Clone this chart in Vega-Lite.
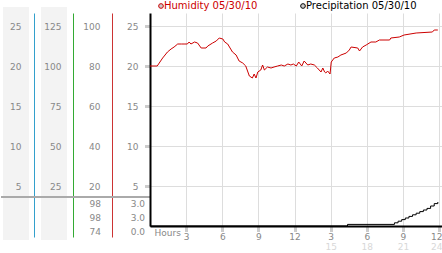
{
  "$schema": "https://vega.github.io/schema/vega-lite/v6.json",
  "padding": {"top": 1, "left": 0, "right": 0, "bottom": 0},
  "background": "white",
  "spacing": 0,
  "bounds": "flush",
  "resolve": {"scale": {"color": "independent"}, "legend": {"color": "independent"}},
  "config": {
    "view": {"stroke": null},
    "font": "DejaVu Sans",
    "axis": {"labelFont": "DejaVu Sans", "labelFontSize": 9, "labelColor": "#888888", "titleFont": "DejaVu Sans"}
  },
  "datasets": {
    "humidity": [
      {"hour": 0, "humidity": 80}, {"hour": 0.6, "humidity": 80}, {"hour": 1.05, "humidity": 84}, {"hour": 1.45, "humidity": 87},
      {"hour": 1.75, "humidity": 88.5}, {"hour": 2.0, "humidity": 89.5}, {"hour": 2.3, "humidity": 91}, {"hour": 2.6, "humidity": 91},
      {"hour": 2.9, "humidity": 91}, {"hour": 3.1, "humidity": 91}, {"hour": 3.25, "humidity": 92}, {"hour": 3.4, "humidity": 91},
      {"hour": 3.7, "humidity": 92}, {"hour": 3.95, "humidity": 91.5}, {"hour": 4.25, "humidity": 89}, {"hour": 4.65, "humidity": 89},
      {"hour": 4.8, "humidity": 90}, {"hour": 5.2, "humidity": 91.5}, {"hour": 5.5, "humidity": 92.5}, {"hour": 5.75, "humidity": 94},
      {"hour": 6.05, "humidity": 93.5}, {"hour": 6.2, "humidity": 92}, {"hour": 6.45, "humidity": 91}, {"hour": 6.6, "humidity": 89.5},
      {"hour": 6.85, "humidity": 87}, {"hour": 7.15, "humidity": 85.5}, {"hour": 7.4, "humidity": 82.5}, {"hour": 7.7, "humidity": 81.5},
      {"hour": 7.95, "humidity": 80}, {"hour": 8.25, "humidity": 75}, {"hour": 8.5, "humidity": 74}, {"hour": 8.65, "humidity": 76},
      {"hour": 8.8, "humidity": 74}, {"hour": 8.95, "humidity": 77}, {"hour": 9.2, "humidity": 78}, {"hour": 9.35, "humidity": 80.5},
      {"hour": 9.5, "humidity": 78}, {"hour": 9.75, "humidity": 79.5}, {"hour": 10.05, "humidity": 79}, {"hour": 10.3, "humidity": 79.5},
      {"hour": 10.6, "humidity": 80}, {"hour": 10.9, "humidity": 80.5}, {"hour": 11.15, "humidity": 80}, {"hour": 11.45, "humidity": 81},
      {"hour": 11.7, "humidity": 80.5}, {"hour": 11.9, "humidity": 81}, {"hour": 12.15, "humidity": 80}, {"hour": 12.35, "humidity": 82},
      {"hour": 12.6, "humidity": 80}, {"hour": 12.8, "humidity": 82.5}, {"hour": 13.1, "humidity": 80.5}, {"hour": 13.35, "humidity": 81},
      {"hour": 13.65, "humidity": 80.5}, {"hour": 13.9, "humidity": 79}, {"hour": 14.2, "humidity": 77}, {"hour": 14.35, "humidity": 79},
      {"hour": 14.5, "humidity": 77}, {"hour": 14.6, "humidity": 76.5}, {"hour": 14.75, "humidity": 77.5}, {"hour": 14.95, "humidity": 76},
      {"hour": 15.05, "humidity": 82}, {"hour": 15.3, "humidity": 84}, {"hour": 15.6, "humidity": 84.5}, {"hour": 15.85, "humidity": 85.5},
      {"hour": 16.3, "humidity": 86.5}, {"hour": 16.55, "humidity": 88}, {"hour": 16.7, "humidity": 89.5}, {"hour": 17.25, "humidity": 89},
      {"hour": 17.4, "humidity": 87.5}, {"hour": 17.65, "humidity": 89.5}, {"hour": 17.95, "humidity": 90.5}, {"hour": 18.35, "humidity": 92},
      {"hour": 18.75, "humidity": 92}, {"hour": 19.05, "humidity": 93}, {"hour": 19.9, "humidity": 93}, {"hour": 20.0, "humidity": 94},
      {"hour": 20.7, "humidity": 94.5}, {"hour": 21.1, "humidity": 95.5}, {"hour": 22.1, "humidity": 96.5}, {"hour": 23.45, "humidity": 97},
      {"hour": 23.6, "humidity": 98}, {"hour": 23.9, "humidity": 98}
    ],
    "precip": [
      {"hour": 0, "precip": 0}, {"hour": 16.4, "precip": 0.2}, {"hour": 20.3, "precip": 0.4}, {"hour": 20.6, "precip": 0.6},
      {"hour": 20.9, "precip": 0.8}, {"hour": 21.2, "precip": 1.0}, {"hour": 21.5, "precip": 1.2}, {"hour": 21.8, "precip": 1.4},
      {"hour": 22.1, "precip": 1.6}, {"hour": 22.4, "precip": 1.8}, {"hour": 22.7, "precip": 2.0}, {"hour": 23.0, "precip": 2.2},
      {"hour": 23.3, "precip": 2.5}, {"hour": 23.6, "precip": 2.8}, {"hour": 23.9, "precip": 3.0}
    ],
    "stats": [
      {"series": "Humidity", "lines": ["98", "98", "74"]},
      {"series": "Precipitation", "lines": ["3.0", "3.0", "0.0"]}
    ]
  },
  "hconcat": [
    {
      "width": 2, "height": 224,
      "data": {"values": [{}]},
      "mark": {"type": "rule", "color": "#aaaaaa", "strokeWidth": 2},
      "encoding": {"y": {"datum": 3.625, "type": "quantitative", "scale": {"domain": [-1.375, 26.625], "nice": false, "zero": false}, "axis": null}}
    },
    {
      "width": 26, "height": 224,
      "data": {"values": [{}]},
      "layer": [
        {"mark": {"type": "rect", "color": "#f3f3f3"},
         "encoding": {"y": {"datum": 27.375, "type": "quantitative", "scale": {"domain": [-1.375, 26.625], "nice": false, "zero": false}, "axis": null}, "y2": {"datum": -1.75}}},
        {"mark": {"type": "rule", "color": "#aaaaaa", "strokeWidth": 2},
         "encoding": {"y": {"datum": 3.625, "type": "quantitative", "axis": null}}}
      ]
    },
    {
      "width": 12, "height": 224,
      "data": {"values": [{}]},
      "mark": {"type": "rule", "color": "#aaaaaa", "strokeWidth": 2},
      "encoding": {"y": {"datum": 3.625, "type": "quantitative", "scale": {"domain": [-1.375, 26.625], "nice": false, "zero": false},
        "axis": {"orient": "left", "offset": -5, "values": [5, 10, 15, 20, 25], "domainColor": "#33a0cc", "domainWidth": 1, "ticks": false, "tickSize": 0, "labelPadding": 13, "grid": false, "title": null}}}
    },
    {
      "width": 26, "height": 224,
      "data": {"values": [{}]},
      "layer": [
        {"mark": {"type": "rect", "color": "#f3f3f3"},
         "encoding": {"y": {"datum": 27.375, "type": "quantitative", "scale": {"domain": [-1.375, 26.625], "nice": false, "zero": false}, "axis": null}, "y2": {"datum": -1.75}}},
        {"mark": {"type": "rule", "color": "#aaaaaa", "strokeWidth": 2},
         "encoding": {"y": {"datum": 3.625, "type": "quantitative", "axis": null}}}
      ]
    },
    {
      "width": 6, "height": 224,
      "data": {"values": [{}]},
      "mark": {"type": "rule", "color": "#aaaaaa", "strokeWidth": 2},
      "encoding": {"y": {"datum": 3.625, "type": "quantitative", "scale": {"domain": [-1.375, 26.625], "nice": false, "zero": false}, "axis": null}}
    },
    {
      "width": 39, "height": 224,
      "layer": [
        {"data": {"values": [{}]},
         "mark": {"type": "rule", "color": "#aaaaaa", "strokeWidth": 2},
         "encoding": {"y": {"datum": 18.125, "type": "quantitative", "scale": {"domain": [-6.875, 133.125], "nice": false, "zero": false},
           "axis": {"orient": "left", "values": [25, 50, 75, 100, 125], "domainColor": "#33aa33", "domainWidth": 1, "ticks": false, "tickSize": 0, "labelPadding": 12, "grid": false, "title": null}}}},
        {"data": {"name": "stats"},
         "transform": [{"filter": "datum.series === 'Humidity'"}],
         "mark": {"type": "text", "align": "right", "baseline": "middle", "dx": 8.5, "dy": -22, "lineHeight": 14, "fontSize": 9, "font": "DejaVu Sans", "color": "#888888"},
         "encoding": {"y": {"datum": 0, "type": "quantitative"}, "text": {"field": "lines", "type": "nominal"}}}
      ]
    },
    {
      "width": 38, "height": 224,
      "layer": [
        {"data": {"values": [{}]},
         "mark": {"type": "rule", "color": "#aaaaaa", "strokeWidth": 2},
         "encoding": {"y": {"datum": 14.5, "type": "quantitative", "scale": {"domain": [-5.5, 106.5], "nice": false, "zero": false},
           "axis": {"orient": "left", "values": [20, 40, 60, 80, 100], "domainColor": "#cc3333", "domainWidth": 1, "ticks": false, "tickSize": 0, "labelPadding": 12, "grid": false, "title": null}}}},
        {"data": {"name": "stats"},
         "transform": [{"filter": "datum.series === 'Precipitation'"}],
         "mark": {"type": "text", "align": "right", "baseline": "middle", "dx": 14, "dy": -22, "lineHeight": 14, "fontSize": 9, "font": "DejaVu Sans", "color": "#888888"},
         "encoding": {"y": {"datum": 0, "type": "quantitative"}, "text": {"field": "lines", "type": "nominal"}}}
      ]
    },
    {
      "width": 293, "height": 213,
      "layer": [
        {"data": {"name": "precip"},
         "mark": {"type": "line", "interpolate": "step-after", "strokeWidth": 1},
         "encoding": {
           "x": {"field": "hour", "type": "quantitative", "scale": {"domain": [0, 24.33], "nice": false, "zero": false},
             "axis": {"orient": "bottom", "values": [15, 18, 21, 24], "grid": false, "domain": false, "ticks": false, "tickSize": 0, "labelPadding": 16, "labelColor": "#d8d8d8", "labelFlush": 5, "labelFlushOffset": 3, "title": null}},
           "y": {"field": "precip", "type": "quantitative", "scale": {"domain": [0, 26.625], "nice": false, "zero": false},
             "axis": {"values": [5, 10, 15, 20, 25], "grid": true, "gridColor": "#dddddd", "domainColor": "#000000", "domainWidth": 2, "tickColor": "#999999", "tickSize": 5, "tickWidth": 3, "tickDash": [1, 1], "labelPadding": 7, "title": null}},
           "color": {"datum": "Precipitation 05/30/10", "type": "nominal",
             "scale": {"domain": ["Humidity 05/30/10", "Precipitation 05/30/10"], "range": ["#cc0000", "#000000"]},
             "legend": {"orient": "none", "legendX": 6, "legendY": -12, "direction": "horizontal", "title": null, "padding": 0,
               "symbolType": "circle", "symbolSize": 22, "symbolStrokeWidth": 1, "labelFont": "DejaVu Sans", "labelFontSize": 10, "labelOffset": -2, "columnPadding": 40,
               "encode": {
                 "symbols": {"update": {"fill": {"value": "#cccccc"}, "stroke": {"value": "#999999"}}},
                 "labels": {"update": {"fill": {"signal": "datum.label === 'Humidity 05/30/10' ? '#cc0000' : '#000000'"}}}
               }}}
         }},
        {"data": {"name": "humidity"},
         "mark": {"type": "line", "strokeWidth": 1},
         "encoding": {
           "x": {"field": "hour", "type": "quantitative",
             "axis": {"orient": "bottom", "values": [3, 6, 9, 12, 15, 18, 21, 24], "labelExpr": "datum.value % 12 === 0 ? '12' : '' + (datum.value % 12)",
               "grid": true, "gridColor": "#dddddd", "domainColor": "#000000", "domainWidth": 2, "tickColor": "#999999", "tickSize": 5, "tickWidth": 3, "tickDash": [1, 1],
               "labelPadding": 1, "labelFlush": 5, "labelFlushOffset": 3, "labelOverlap": false,
               "title": "Hours", "titleAnchor": "start", "titleAlign": "left", "titleBaseline": "middle", "titleX": 4, "titleY": 6, "titleFontSize": 9, "titleFontWeight": "normal", "titleColor": "#888888"}},
           "y": {"field": "humidity", "type": "quantitative", "scale": {"domain": [0, 106.5], "nice": false, "zero": false}, "axis": null},
           "color": {"datum": "Humidity 05/30/10", "type": "nominal"}
         }}
      ],
      "resolve": {"scale": {"y": "independent"}, "axis": {"x": "independent"}}
    }
  ]
}
